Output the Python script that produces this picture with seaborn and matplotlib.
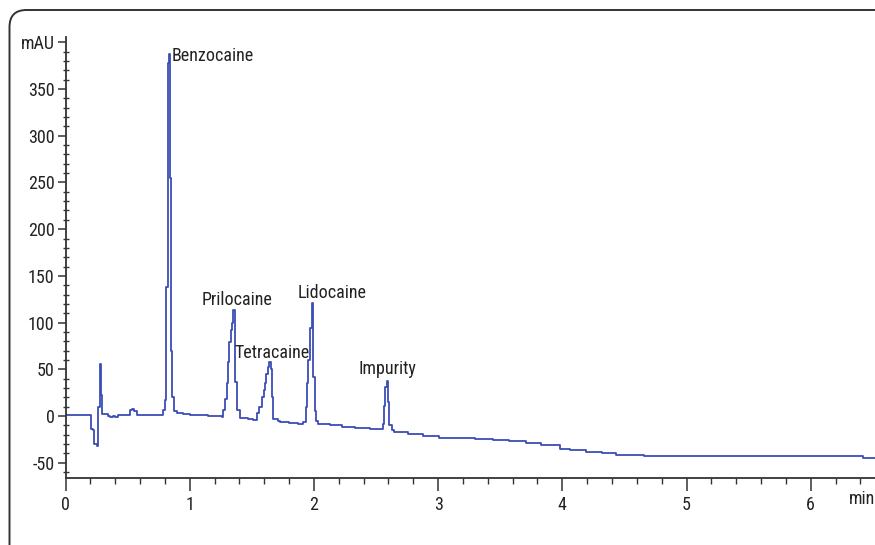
import matplotlib
matplotlib.use("Agg")
import matplotlib.pyplot as plt
import matplotlib.transforms as mtransforms
from matplotlib.patches import FancyBboxPatch
from matplotlib.ticker import MultipleLocator, FixedLocator
from matplotlib import font_manager
import seaborn as sns
import pandas as pd

# ---- data (step levels) ----
time_min = [0.0, 0.203, 0.218, 0.232, 0.251, 0.264, 0.278, 0.286, 0.296, 0.31,
            0.34, 0.36, 0.38, 0.40, 0.42, 0.50, 0.52, 0.535, 0.555, 0.573,
            0.787, 0.798, 0.807, 0.823, 0.832, 0.845, 0.849, 0.86, 0.872, 0.90,
            0.95, 1.0, 1.15, 1.26, 1.27, 1.285, 1.298, 1.31, 1.319, 1.33,
            1.338, 1.351, 1.368, 1.383, 1.405, 1.47, 1.51, 1.54, 1.56, 1.58,
            1.595, 1.606, 1.618, 1.628, 1.641, 1.655, 1.662, 1.672, 1.71, 1.73,
            1.80, 1.87, 1.915, 1.935, 1.948, 1.955, 1.969, 1.982, 1.996, 2.01,
            2.02, 2.035, 2.13, 2.23, 2.33, 2.45, 2.555, 2.565, 2.576, 2.585,
            2.597, 2.607, 2.625, 2.645, 2.76, 2.88, 3.01, 3.30, 3.44, 3.57,
            3.71, 3.83, 3.98, 4.06, 4.19, 4.32, 4.43, 4.66, 6.42, 6.60]
signal_mau = [1.5, -13.5, -15, -30, -32, 10, 56, 22, 2.5, 2,
              0, -1, 0, -1, 1, 1.5, 6, 8, 5, 1.5,
              6, 17, 138, 378, 388, 255, 70, 20, 5, 3,
              2.5, 1.5, 0, -1, 6, 18, 35, 58, 79, 92,
              100, 113, 36, 6, -2.5, -3, -4.5, 3, 10, 20,
              28, 35, 45, 52, 58, 50, 20, -3, -5, -6.5,
              -7, -8, -6, 10, 35, 60, 94, 121, 42, 5,
              -5, -9, -10, -11.5, -12.5, -14, -8, 11, 31, 37,
              15, -10, -15, -17, -19.5, -21.5, -23, -24.5, -26, -27,
              -28.5, -31, -35, -36.5, -38.3, -40, -41.5, -43, -44.5, -44.5]

peak_names = ["Benzocaine", "Prilocaine", "Tetracaine", "Lidocaine", "Impurity"]
label_x = [0.857, 1.385, 1.663, 2.146, 2.595]
label_y = [385, 124, 68, 132, 50]
label_ha = ["left", "center", "center", "center", "center"]

x_major = [0, 1, 2, 3, 4, 5, 6]
y_major = [-50, 0, 50, 100, 150, 200, 250, 300, 350, 400]
y_labels = ["-50", "0", "50", "100", "150", "200", "250", "300", "350", "mAU"]

# ---- plot ----
sns.set_theme(style="white")
available = set(f.name for f in font_manager.fontManager.ttflist)
candidates = ["Roboto Condensed", "Archivo Narrow", "PT Sans Narrow",
              "Liberation Sans Narrow", "Fira Sans Condensed",
              "IBM Plex Sans Condensed", "Encode Sans Condensed",
              "Open Sans Condensed", "Barlow Semi Condensed", "Liberation Sans"]
chosen = next((c for c in candidates if c in available), "DejaVu Sans")
plt.rcParams["font.family"] = [chosen, "DejaVu Sans"]

W, H = 875, 545
fig = plt.figure(figsize=(W / 100, H / 100), dpi=100)
ax = fig.add_axes([65.5 / W, (H - 477.7) / H, 1 - 65.5 / W, (477.7 - 36.7) / H])

df = pd.DataFrame({"time": time_min, "signal": signal_mau})
sns.lineplot(data=df, x="time", y="signal", ax=ax, color="#3a4db5",
             linewidth=1.3, drawstyle="steps-post", estimator=None, sort=False)

ax.set_xlim(0, (875 - 65.5) / 124.2)
ax.set_ylim(-66, 406)
ax.set_xlabel("")
ax.set_ylabel("")

for s in ["top", "right"]:
    ax.spines[s].set_visible(False)
for s in ["left", "bottom"]:
    ax.spines[s].set_color("#333333")
    ax.spines[s].set_linewidth(1.3)

ax.xaxis.set_major_locator(FixedLocator(x_major))
ax.xaxis.set_minor_locator(MultipleLocator(0.2))
ax.yaxis.set_major_locator(FixedLocator(y_major))
ax.yaxis.set_minor_locator(MultipleLocator(10))
ax.set_xticklabels([str(v) for v in x_major])
ax.set_yticklabels(y_labels)

FS = 13
ax.tick_params(axis="x", which="major", direction="out", length=9, width=1.1,
               color="#333333", labelsize=FS, labelcolor="#222222", pad=4, bottom=True)
ax.tick_params(axis="x", which="minor", direction="out", length=4.5, width=1.0,
               color="#333333", bottom=True)
ax.tick_params(axis="y", which="major", direction="out", length=6, width=1.1,
               color="#333333", labelsize=FS, labelcolor="#222222", pad=2, left=True)
ax.tick_params(axis="y", which="minor", direction="inout", length=4, width=1.0,
               color="#333333", left=True)

ax.text(6.31, -79, "min", ha="left", va="top", fontsize=FS, color="#222222",
        clip_on=False)

for name, lx, ly, ha in zip(peak_names, label_x, label_y, label_ha):
    ax.text(lx, ly, name, ha=ha, va="center", fontsize=FS, color="#222222")

# rounded frame around the chart (extends past right and bottom edges)
frame = FancyBboxPatch((9.5, -60), 1000, H - 10 + 60,
                       boxstyle="round,pad=0,rounding_size=17",
                       transform=mtransforms.IdentityTransform(),
                       facecolor="none", edgecolor="#333333", linewidth=1.4)
fig.patches.append(frame)

fig.savefig("out.png", dpi=100)
